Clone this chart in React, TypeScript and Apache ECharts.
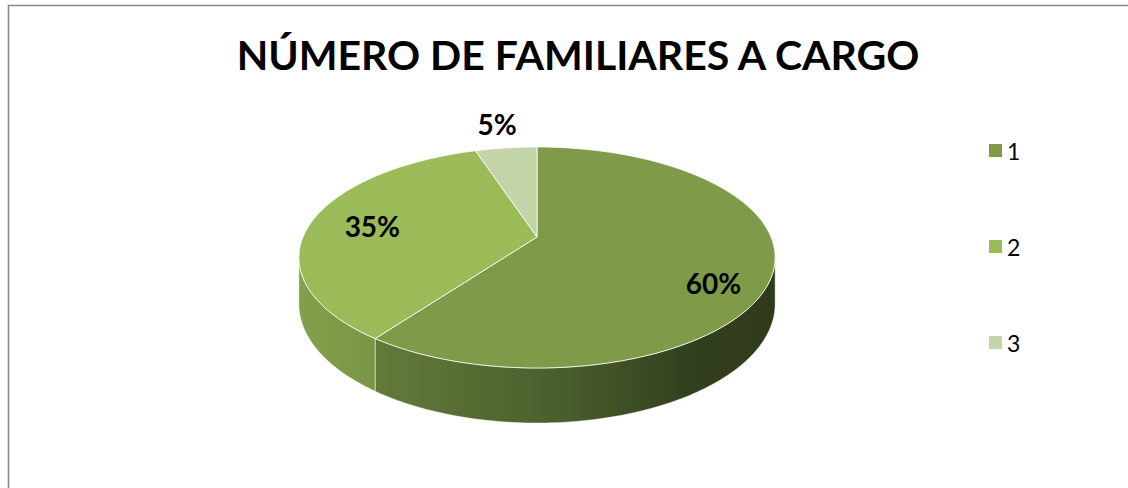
import React, { useEffect, useRef } from "react";
import * as echarts from "echarts";

const titleText = "NÚMERO DE FAMILIARES A CARGO";
const categories = ["1", "2", "3"];
const values = [60, 35, 5];
const topColors = ["#7f9a48", "#9bbb59", "#c3d5a8"];
const sideStops = [
  [
    [0, "#637a39"],
    [0.45, "#4b5f2d"],
    [0.78, "#33401e"],
    [1, "#2f3a1b"],
  ],
  [
    [0, "#83a04b"],
    [1, "#7a9545"],
  ],
  [
    [0, "#a8bb8c"],
    [1, "#a0b384"],
  ],
];

// projection of the tilted disc (perspective)
const CX = 537;
const CY = 237;
const SX = 234;
const SY = 106.7;
const K = 0.1855;
const DEPTH = 44.8;
const LABEL_RHO = [0.75, 0.75, 1];
const LABEL_NUDGE = [
  [2, 20],
  [5, 1],
  [-9, -24],
];

function proj(deg: number, rho: number, down: number): number[] {
  const t = (deg * Math.PI) / 180;
  const X = rho * Math.sin(t);
  const Z = rho * Math.cos(t);
  const d = 1 + K * Z;
  return [CX + (SX * X) / d, CY - (SY * Z) / d + (down * DEPTH) / d];
}

function arc(a0: number, a1: number, rho: number, down: number): number[][] {
  const pts: number[][] = [];
  const n = Math.max(2, Math.ceil(Math.abs(a1 - a0) / 1));
  for (let i = 0; i <= n; i++) pts.push(proj(a0 + ((a1 - a0) * i) / n, rho, down));
  return pts;
}

const SIDE_MIN = (Math.acos(-K) * 180) / Math.PI;
const SIDE_MAX = 360 - SIDE_MIN;

export default function App() {
  const ref = useRef<HTMLDivElement>(null);
  useEffect(() => {
    if (!ref.current) return;
    const chart = echarts.init(ref.current, null, { renderer: "svg" });
    const total = values.reduce((a, b) => a + b, 0);

    const series = categories.map((name, i) => ({
      type: "custom",
      name,
      coordinateSystem: "none",
      silent: true,
      itemStyle: { color: topColors[i] },
      data: [values[i]],
      renderItem: (_params: any, api: any) => {
        const v = api.value(0);
        const before = values.slice(0, i).reduce((a, b) => a + b, 0);
        const a0 = (before / total) * 360;
        const a1 = ((before + v) / total) * 360;
        const children: any[] = [];
        // side
        const s0 = Math.max(a0, SIDE_MIN);
        const s1 = Math.min(a1, SIDE_MAX);
        if (s1 > s0) {
          const topArc = arc(s0, s1, 1, 0);
          const botArc = arc(s1, s0, 1, 1);
          children.push({
            type: "polygon",
            z2: 1,
            shape: { points: topArc.concat(botArc) },
            style: {
              fill: new echarts.graphic.LinearGradient(
                0,
                0,
                1,
                0,
                sideStops[i].map((s) => ({ offset: s[0] as number, color: s[1] as string }))
              ),
              stroke: "rgba(255,255,255,0.55)",
              lineWidth: 0.8,
            },
          });
        }
        // top
        const topPts = [proj(0, 0, 0)].concat(arc(a0, a1, 1, 0));
        children.push({
          type: "polygon",
          z2: 5,
          shape: { points: topPts },
          style: { fill: topColors[i], stroke: "#ffffff", lineWidth: 0.8 },
        });
        // label
        const mid = (a0 + a1) / 2;
        const p = proj(mid, LABEL_RHO[i], 0);
        children.push({
          type: "text",
          z2: 10,
          x: p[0] + LABEL_NUDGE[i][0],
          y: p[1] + LABEL_NUDGE[i][1],
          style: {
            text: `${Math.round((v / total) * 100)}%`,
            fill: "#000000",
            font: "bold 28px Lato",
            align: "center",
            verticalAlign: "middle",
          },
        });
        return { type: "group", children };
      },
    }));

    chart.setOption({
      animation: false,
      backgroundColor: "#ffffff",
      title: {
        text: titleText,
        left: 573,
        top: 29,
        textAlign: "center",
        textStyle: {
          fontFamily: "Lato",
          fontWeight: "bold",
          fontSize: 41,
          color: "#000000",
        },
      },
      legend: {
        orient: "vertical",
        left: 984,
        top: 134,
        itemWidth: 13,
        itemHeight: 13,
        itemGap: 73,
        icon: "rect",
        data: categories,
        textStyle: {
          fontFamily: "Lato",
          fontSize: 23,
          lineHeight: 23,
          color: "#000000",
        },
      },
      graphic: [
        {
          type: "polyline",
          silent: true,
          shape: {
            points: [
              [8.5, 700],
              [8.5, 5.5],
              [1300, 5.5],
            ],
          },
          style: { stroke: "#8a8a8a", lineWidth: 1.6, fill: "none" },
        },
      ],
      series,
    });
    return () => chart.dispose();
  }, []);
  return (
    <div
      ref={ref}
      style={{ position: "fixed", left: 0, top: 0, width: 1128, height: 488 }}
    />
  );
}
